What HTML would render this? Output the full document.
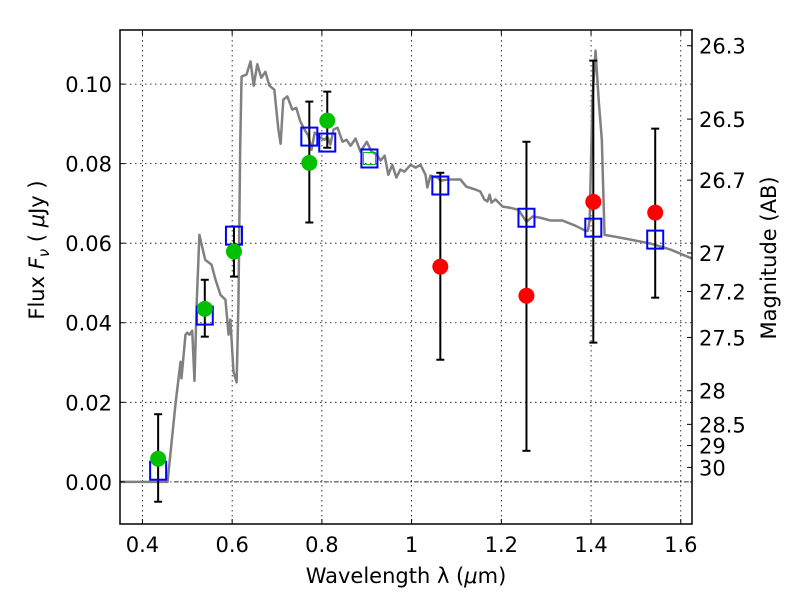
<!DOCTYPE html>
<html><head><meta charset="utf-8"><style>
html,body{margin:0;padding:0;background:#fff;}
svg text{font-family:"DejaVu Sans","Liberation Sans",sans-serif;}
</style></head><body>
<svg id="chart" width="800" height="600" viewBox="0 0 800 600" xmlns="http://www.w3.org/2000/svg"></svg>
<script>
const specLam = [0.35,0.456,0.474,0.485,0.487,0.496,0.5,0.505,0.511,0.516,0.521,0.527,0.54,0.554,0.563,0.574,0.585,0.592,0.596,0.603,0.61,0.614,0.618,0.621,0.632,0.641,0.648,0.656,0.665,0.674,0.683,0.694,0.703,0.708,0.714,0.723,0.734,0.743,0.752,0.761,0.77,0.777,0.784,0.797,0.806,0.812,0.819,0.826,0.835,0.846,0.855,0.864,0.875,0.886,0.9,0.911,0.922,0.931,0.94,0.948,0.957,0.966,0.975,0.984,0.998,1.009,1.02,1.031,1.035,1.042,1.049,1.058,1.064,1.08,1.109,1.122,1.142,1.153,1.162,1.169,1.174,1.178,1.187,1.203,1.22,1.238,1.256,1.27,1.287,1.31,1.336,1.365,1.388,1.393,1.397,1.403,1.41,1.417,1.424,1.43,1.455,1.488,1.533,1.577,1.626];
const specFlux = [0,0,0.0199,0.0302,0.026,0.037,0.0375,0.037,0.038,0.0254,0.045,0.0621,0.0558,0.0546,0.0508,0.047,0.0458,0.037,0.0408,0.0277,0.025,0.045,0.085,0.1019,0.1024,0.1057,0.0996,0.105,0.1016,0.1031,0.0996,0.0986,0.0886,0.085,0.0961,0.0969,0.0936,0.094,0.0906,0.0886,0.087,0.0835,0.0878,0.0865,0.086,0.0868,0.0848,0.0886,0.089,0.0855,0.086,0.0845,0.0863,0.083,0.0855,0.083,0.0823,0.0808,0.082,0.0772,0.0797,0.0765,0.0785,0.078,0.0797,0.079,0.0797,0.0772,0.074,0.077,0.0767,0.0765,0.0757,0.076,0.076,0.0742,0.0735,0.073,0.071,0.0705,0.0722,0.0702,0.071,0.0692,0.0689,0.0684,0.0654,0.0667,0.0664,0.0657,0.0657,0.0644,0.0631,0.0631,0.066,0.0961,0.1084,0.096,0.086,0.0621,0.0616,0.0609,0.0599,0.0584,0.0561];
const obsLam = [0.435,0.539,0.604,0.772,0.812,1.064,1.256,1.405,1.543];
const obsFlux = [0.0058,0.0435,0.0579,0.0802,0.0908,0.0541,0.0468,0.0704,0.0677];
const errHi = [0.017,0.0508,0.0642,0.0956,0.0981,0.0777,0.0855,0.1059,0.0888];
const errLo = [-0.005,0.0365,0.0516,0.0652,0.084,0.0307,0.0078,0.035,0.0463];
const obsColor = ["#00c000","#00c000","#00c000","#00c000","#00c000","#ff0000","#ff0000","#ff0000","#ff0000"];
const modLam = [0.435,0.539,0.604,0.772,0.812,0.906,1.064,1.256,1.405,1.543];
const modFlux = [0.0028,0.0418,0.0619,0.0868,0.0853,0.0813,0.0745,0.0664,0.0639,0.0609];
const xTicks = [0.4,0.6,0.8,1.0,1.2,1.4,1.6];
const xTickLabels = ["0.4","0.6","0.8","1","1.2","1.4","1.6"];
const yTicks = [0,0.02,0.04,0.06,0.08,0.10];
const yTickLabels = ["0.00","0.02","0.04","0.06","0.08","0.10"];
const magTicks = [26.3,26.5,26.7,27,27.2,27.5,28,28.5,29,30];
const magLabels = ["26.3","26.5","26.7","27","27.2","27.5","28","28.5","29","30"];

const L=120,R=692,T=30,B=524;
const xMin=0.35,xMax=1.625,yMin=-0.0106,yMax=0.1136;
const X=v=>L+(v-xMin)/(xMax-xMin)*(R-L);
const Y=v=>B-(v-yMin)/(yMax-yMin)*(B-T);
const svg=document.getElementById('chart');
const NS='http://www.w3.org/2000/svg';
function mk(tag,attrs,parent){const e=document.createElementNS(NS,tag);for(const k in attrs)e.setAttribute(k,attrs[k]);(parent||svg).appendChild(e);return e;}

const grid=mk('g',{});


xTicks.forEach(t=>{mk('line',{x1:X(t),x2:X(t),y1:T,y2:B,stroke:'#000','stroke-width':0.8,'stroke-dasharray':'1.5,3.5'},grid);});
yTicks.forEach(t=>{mk('line',{x1:L,x2:R,y1:Y(t),y2:Y(t),stroke:'#000','stroke-width':0.8,'stroke-dasharray':'1.5,3.5'},grid);});

const clip=mk('clipPath',{id:'pc'});mk('rect',{x:L,y:T,width:R-L,height:B-T},clip);
const spec=mk('polyline',{points:specLam.map((l,i)=>X(l)+','+Y(specFlux[i])).join(' '),fill:'none',stroke:'#808080','stroke-width':2.5,'clip-path':'url(#pc)','stroke-linejoin':'round'});


const zl=mk('line',{x1:X(0.47),x2:R,y1:Y(0),y2:Y(0),stroke:'#000','stroke-width':0.8,'stroke-dasharray':'5,2,1,2'});



obsLam.forEach((l,i)=>{
  const g=mk('g',{});
  
  
  const x=X(l);
  mk('line',{x1:x,x2:x,y1:Y(errHi[i]),y2:Y(errLo[i]),stroke:'#000','stroke-width':2},g);
  mk('line',{x1:x-4,x2:x+4,y1:Y(errHi[i]),y2:Y(errHi[i]),stroke:'#000','stroke-width':2},g);
  mk('line',{x1:x-4,x2:x+4,y1:Y(errLo[i]),y2:Y(errLo[i]),stroke:'#000','stroke-width':2},g);
});
modLam.forEach((l,i)=>{
  const r=mk('rect',{x:X(l)-8,y:Y(modFlux[i])-9,width:16,height:18,fill:'none',stroke:'#0000ff','stroke-width':2});
  
  
});
const gs=mk('rect',{x:X(0.906)-6,y:Y(0.0813)-6,width:12,height:12,fill:'none',stroke:'#00c000','stroke-width':1});


obsLam.forEach((l,i)=>{
  const c=mk('circle',{cx:X(l),cy:Y(obsFlux[i]),r:8,fill:obsColor[i]});
  
  
});

const frame=mk('rect',{x:L,y:T,width:R-L,height:B-T,fill:'none',stroke:'#000','stroke-width':1.5});



xTicks.forEach((t,i)=>{
  mk('line',{x1:X(t),x2:X(t),y1:B,y2:B-5,stroke:'#000'});
  mk('line',{x1:X(t),x2:X(t),y1:T,y2:T+5,stroke:'#000'});
  const tx=mk('text',{x:X(t),y:B+28,'text-anchor':'middle','font-size':21});
  tx.textContent=xTickLabels[i];
  
  
});
yTicks.forEach((t,i)=>{
  mk('line',{x1:L,x2:L+5,y1:Y(t),y2:Y(t),stroke:'#000'});
  const tx=mk('text',{x:L-8,y:Y(t)+8,'text-anchor':'end','font-size':21});
  tx.textContent=yTickLabels[i];
  
  
});
magTicks.forEach((m,i)=>{
  const f=Math.pow(10,-0.4*(m-23.9));
  mk('line',{x1:R,x2:R-5,y1:Y(f),y2:Y(f),stroke:'#000'});
  const tx=mk('text',{x:R+7,y:Y(f)+8,'font-size':21});
  tx.textContent=magLabels[i];
  
  
});
const xt=mk('text',{x:406,y:583,'text-anchor':'middle','font-size':21});
xt.innerHTML='Wavelength  λ (<tspan font-style="italic">μ</tspan>m)';


const yt=mk('text',{x:0,y:0,'text-anchor':'middle','font-size':21,transform:'translate(44,250) rotate(-90)'});
yt.innerHTML='Flux  <tspan font-style="italic">F</tspan><tspan font-style="italic" font-size="15" dy="5">ν</tspan><tspan dy="-5">  (  </tspan><tspan font-style="italic">μ</tspan>Jy )';


const rt=mk('text',{x:0,y:0,'text-anchor':'middle','font-size':21,transform:'translate(776,258) rotate(-90)'});
rt.textContent='Magnitude (AB)';


</script>
</body></html>
